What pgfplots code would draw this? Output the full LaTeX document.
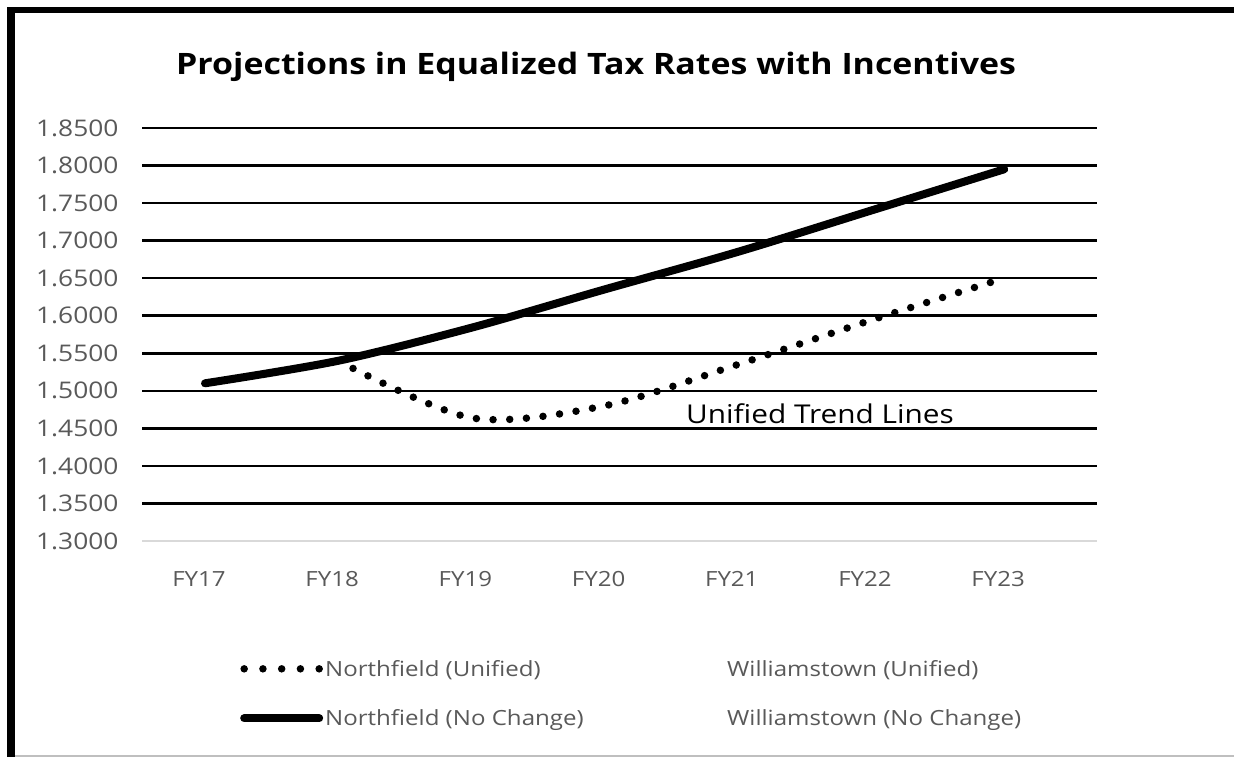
\documentclass[border=0pt]{standalone}
\usepackage{pgfplots}
\pgfplotsset{compat=1.18}
\usepackage{fontspec}
\setmainfont{Open Sans}[FakeStretch=1.15]
\definecolor{tickgray}{HTML}{595959}
\definecolor{axgray}{HTML}{D9D9D9}
\begin{document}
\begin{tikzpicture}[x=1bp,y=1bp]
\path[use as bounding box] (0,0) rectangle (1234,757);
\fill[white] (0,0) rectangle (1234,757);
\begin{axis}[
  at={(142bp,216bp)}, anchor=south west,
  scale only axis, width=955bp, height=413bp,
  xmin=-0.473, xmax=6.697, ymin=1.30, ymax=1.85,
  xtick={0,1,2,3,4,5,6},
  xticklabels={FY17,FY18,FY19,FY20,FY21,FY22,FY23},
  ytick={1.35,1.4,1.45,1.5,1.55,1.6,1.65,1.7,1.75,1.8,1.85},
  extra y ticks={1.30},
  extra y tick style={grid style={axgray, line width=2.2bp}},
  ymajorgrids, grid style={black, line width=2.5bp},
  axis line style={draw=none},
  major tick length=0pt,
  /pgf/number format/assume math mode=true,
  yticklabel style={/pgf/number format/.cd, fixed, fixed zerofill, precision=4, /tikz/.cd,
    font=\fontsize{23}{27}\selectfont, text=tickgray, xshift=-20bp},
  xticklabel style={font=\fontsize{21}{25}\selectfont, text=tickgray, yshift=-27bp, xshift=-6bp},
  legend columns=2,
  legend cell align=left,
  legend image code/.code={\draw[#1] (0bp,0bp) -- (75bp,0bp);},
  legend style={draw=none, fill=none, at={(axis description cs:0.1026,-0.283)}, anchor=north west,
    inner sep=0pt, row sep=28bp, font=\fontsize{21}{25}\selectfont, text=tickgray,
    nodes={inner sep=2bp}},
]
\addplot[black, line width=8bp, smooth, line cap=round, forget plot]
  coordinates {(0,1.510)(1,1.540)(2,1.584)(3,1.635)(4,1.685)(5,1.740)(6,1.795)};
\addplot[black, line width=7.5bp, smooth, line cap=round, dash pattern=on 0bp off 16.7bp, forget plot]
  coordinates {(1,1.540)(2,1.464)(3,1.480)(4,1.535)(5,1.594)(6,1.650)};
\addlegendimage{black, line width=7.5bp, line cap=round, dash pattern=on 0bp off 18.75bp}
\addlegendentry{\makebox[323bp][l]{Northfield (Unified)}}
\addlegendimage{draw opacity=0, line width=0pt}
\addlegendentry{Williamstown (Unified)}
\addlegendimage{black, line width=8bp, line cap=round}
\addlegendentry{\makebox[323bp][l]{Northfield (No Change)}}
\addlegendimage{draw opacity=0, line width=0pt}
\addlegendentry{Williamstown (No Change)}
\end{axis}
\node[anchor=base west, inner sep=0pt, font=\fontsize{26}{31}\selectfont] at (686,333) {Unified Trend Lines};
\node[anchor=base west, inner sep=0pt, font=\bfseries\fontsize{29.6}{35}\selectfont] at (176,682)
  {Projections in Equalized Tax Rates with Incentives};
\fill[black] (7,0) rectangle (15,750);
\fill[black] (7,744) rectangle (1234,750);
\draw[gray!50, line width=1.5bp] (15,1) -- (1234,1);
\end{tikzpicture}
\end{document}
